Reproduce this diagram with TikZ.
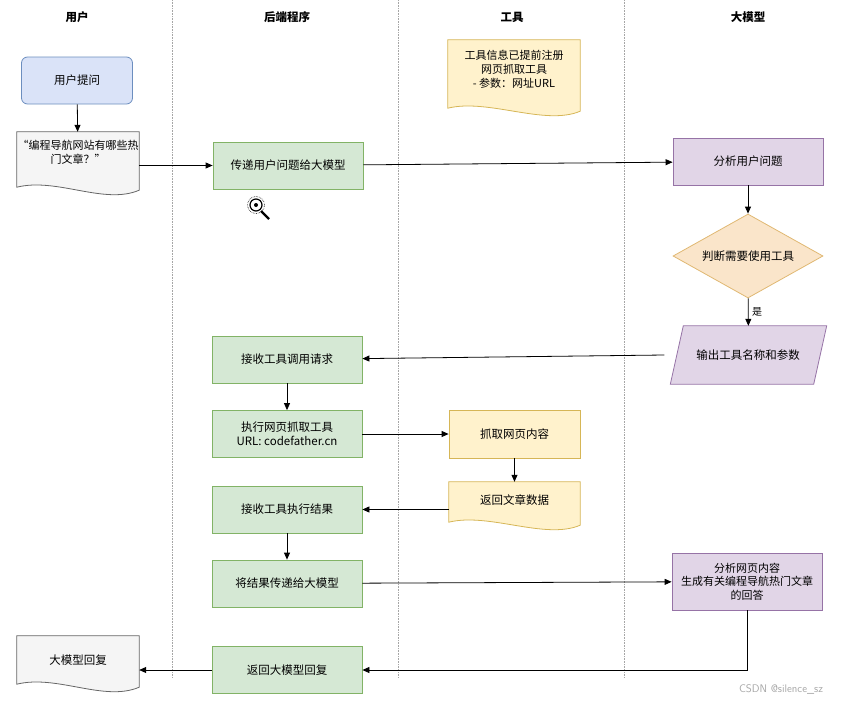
\documentclass[tikz,border=0pt]{standalone}
\usepackage{fontspec}
\setmainfont{Noto Sans CJK SC}
\usetikzlibrary{shapes.geometric,arrows.meta}
\definecolor{gfill}{HTML}{D5E8D4}\definecolor{gdraw}{HTML}{82B366}
\definecolor{pfill}{HTML}{E1D5E7}\definecolor{pdraw}{HTML}{9673A6}
\definecolor{yfill}{HTML}{FFF2CC}\definecolor{ydraw}{HTML}{D6B656}
\definecolor{bfill}{HTML}{DAE3F8}\definecolor{bdraw}{HTML}{6C8EBF}
\definecolor{ofill}{HTML}{FAE5CA}\definecolor{odraw}{HTML}{E0B872}
\definecolor{sfill}{HTML}{F5F5F5}\definecolor{sdraw}{HTML}{666666}
\newcommand\mydoc[3]{%
  \path[fill=#2,draw=#3,line width=0.8pt] (#1.north west) -- (#1.north east) -- ([yshift=7pt]#1.south east)
   .. controls ([xshift=-35pt,yshift=-8pt]#1.south east) and ([xshift=40pt,yshift=20pt]#1.south west) .. ([yshift=10pt]#1.south west) -- cycle;}
\begin{document}
\begin{tikzpicture}[x=1pt,y=-1pt,font=\fontsize{11.5}{14}\selectfont,
  box/.style={draw=gdraw,fill=gfill,line width=0.8pt,minimum width=150pt,minimum height=47pt,align=center,inner sep=1pt},
  pbox/.style={draw=pdraw,fill=pfill,line width=0.8pt,minimum width=150pt,minimum height=47pt,align=center,inner sep=1pt},
  txt/.style={minimum width=#1,align=center,inner sep=1pt},
  arr/.style={-{Triangle[length=7pt,width=6pt]},line width=0.8pt},
  lane/.style={densely dotted,gray!70,line width=0.6pt},
  hd/.style={font=\fontsize{11.5}{14}\selectfont\bfseries}]
\useasboundingbox (0,0) rectangle (843,704);
\foreach \x in {172,398,624} \draw[lane] (\x,0) -- (\x,678);
\node[hd] (h1) at (77,17) {用户};
\node[hd] (h2) at (287,17) {后端程序};
\node[hd] (h3) at (512,17) {工具};
\node[hd] (h4) at (748,17) {大模型};
% user lane
\node[draw=bdraw,fill=bfill,rounded corners=6pt,line width=0.8pt,minimum width=111pt,minimum height=47pt] (ask) at (77,80.5) {用户提问};
\node[txt=122pt,minimum height=65pt] (q) at (78,164.5) {};
\mydoc{q}{sfill}{sdraw}
\node[align=center,font=\fontsize{11}{14}\selectfont] (qt) at (78,152) {“编程导航网站有哪些热\\门文章？”};
\node[txt=122pt,minimum height=58pt] (rep) at (78,665) {};
\mydoc{rep}{sfill}{sdraw}
\node (rept) at (78,660) {大模型回复};
% tool note
\node[txt=132pt,minimum height=78pt] (note) at (514,79) {};
\mydoc{note}{yfill}{ydraw}
\node[align=center,font=\fontsize{11}{14}\selectfont] (notet) at (514,69) {工具信息已提前注册\\网页抓取工具\\- 参数：网址URL};
% backend
\node[box] (b1) at (288,165.5) {传递用户问题给大模型};
\node[box] (b2) at (287,359.5) {接收工具调用请求};
\node[box] (b3) at (287,434) {执行网页抓取工具\\URL: codefather.cn};
\node[box] (b4) at (287,509.5) {接收工具执行结果};
\node[box] (b5) at (287,583.5) {将结果传递给大模型};
\node[box] (b6) at (287,670) {返回大模型回复};
% magnifier icon
\coordinate (mg) at (256,205);
\draw[line width=1.2pt] (mg) circle (6pt);
\draw[densely dotted,line width=0.6pt] (mg) circle (8.5pt);
\draw[line width=2.2pt] (261,211) -- (269,219);
\fill (mg) circle (2pt);
% tools
\node[draw=ydraw,fill=yfill,line width=0.8pt,minimum width=131pt,minimum height=48pt] (t1) at (514.5,434) {抓取网页内容};
\node[txt=131pt,minimum height=50pt] (t2) at (514.5,507) {};
\mydoc{t2}{yfill}{ydraw}
\node (t2t) at (514.5,500) {返回文章数据};
% LLM
\node[pbox] (m1) at (748,161.5) {分析用户问题};
\node[diamond,draw=odraw,fill=ofill,line width=0.8pt,aspect=1.8,minimum width=150pt,minimum height=84pt,inner sep=0pt] (m2) at (748,256) {判断需要使用工具};
\node[minimum width=156pt,minimum height=58pt,inner sep=0pt] (m3) at (748.5,355) {};
\path[draw=pdraw,fill=pfill,line width=0.8pt] ([xshift=13pt]m3.north west) -- (m3.north east) -- ([xshift=-13pt]m3.south east) -- (m3.south west) -- cycle;
\node (m3t) at (748,355) {输出工具名称和参数};
\node[pbox,minimum height=57pt,align=center,font=\fontsize{11}{13.5}\selectfont] (m4) at (747,581.5) {分析网页内容\\生成有关编程导航热门文章\\的回答};
% arrows
\draw[arr] (ask) -- (q);
\draw[arr] (q.east|-b1) -- (b1);
\draw[arr] (b1) -- (m1);
\draw[arr] (m1) -- (m2);
\draw[arr] (m2) -- node[right,font=\fontsize{10}{12}\selectfont] (yes) {是} (m3);
\draw[arr] ([xshift=-6pt]m3.west) -- (b2);
\draw[arr] (b2) -- (b3);
\draw[arr] (b3) -- (t1);
\draw[arr] (t1) -- (t2);
\draw[arr] (t2.west|-b4) -- (b4);
\draw[arr] (b4) -- (b5);
\draw[arr] (b5) -- (m4);
\draw[arr] (m4.south) |- (b6.east);
\draw[arr] (b6) -- (rep.east|-b6);
\node[gray!70,font=\sffamily\fontsize{11}{13}\selectfont] (wm) at (781,689) {CSDN @silence\_sz};
\end{tikzpicture}
\end{document}
